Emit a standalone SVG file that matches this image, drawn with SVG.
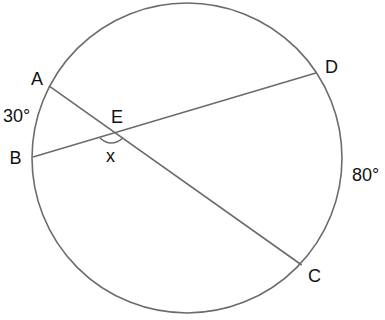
<svg xmlns="http://www.w3.org/2000/svg" width="385" height="320" viewBox="0 0 385 320">
<style>
.ln{fill:none;stroke:#6b6b6b;stroke-width:1.6}
.lb{font-family:"Liberation Sans",Arial,sans-serif;font-size:18px;fill:#111}
</style>
<rect width="385" height="320" fill="#fff"/>
<g id="circle"><circle class="ln" cx="187" cy="158" r="155"/></g>
<g id="connectors">
<line class="ln" x1="50" y1="86.7" x2="301.7" y2="265"/>
<line class="ln" x1="33" y1="157" x2="316.7" y2="72.7"/>
<path class="ln" d="M100,138 Q111,148 123,138"/>
</g>
<g id="A"><text class="lb" x="31" y="85">A</text></g>
<g id="arcAB"><text class="lb" x="3" y="121.5">30°</text></g>
<g id="E"><text class="lb" x="111" y="122.5">E</text></g>
<g id="B"><text class="lb" x="9.5" y="164">B</text></g>
<g id="x"><text class="lb" x="106" y="161.5">x</text></g>
<g id="D"><text class="lb" x="325" y="72.5">D</text></g>
<g id="arcDC"><text class="lb" x="352" y="181">80°</text></g>
<g id="C"><text class="lb" x="308" y="282">C</text></g>
</svg>
